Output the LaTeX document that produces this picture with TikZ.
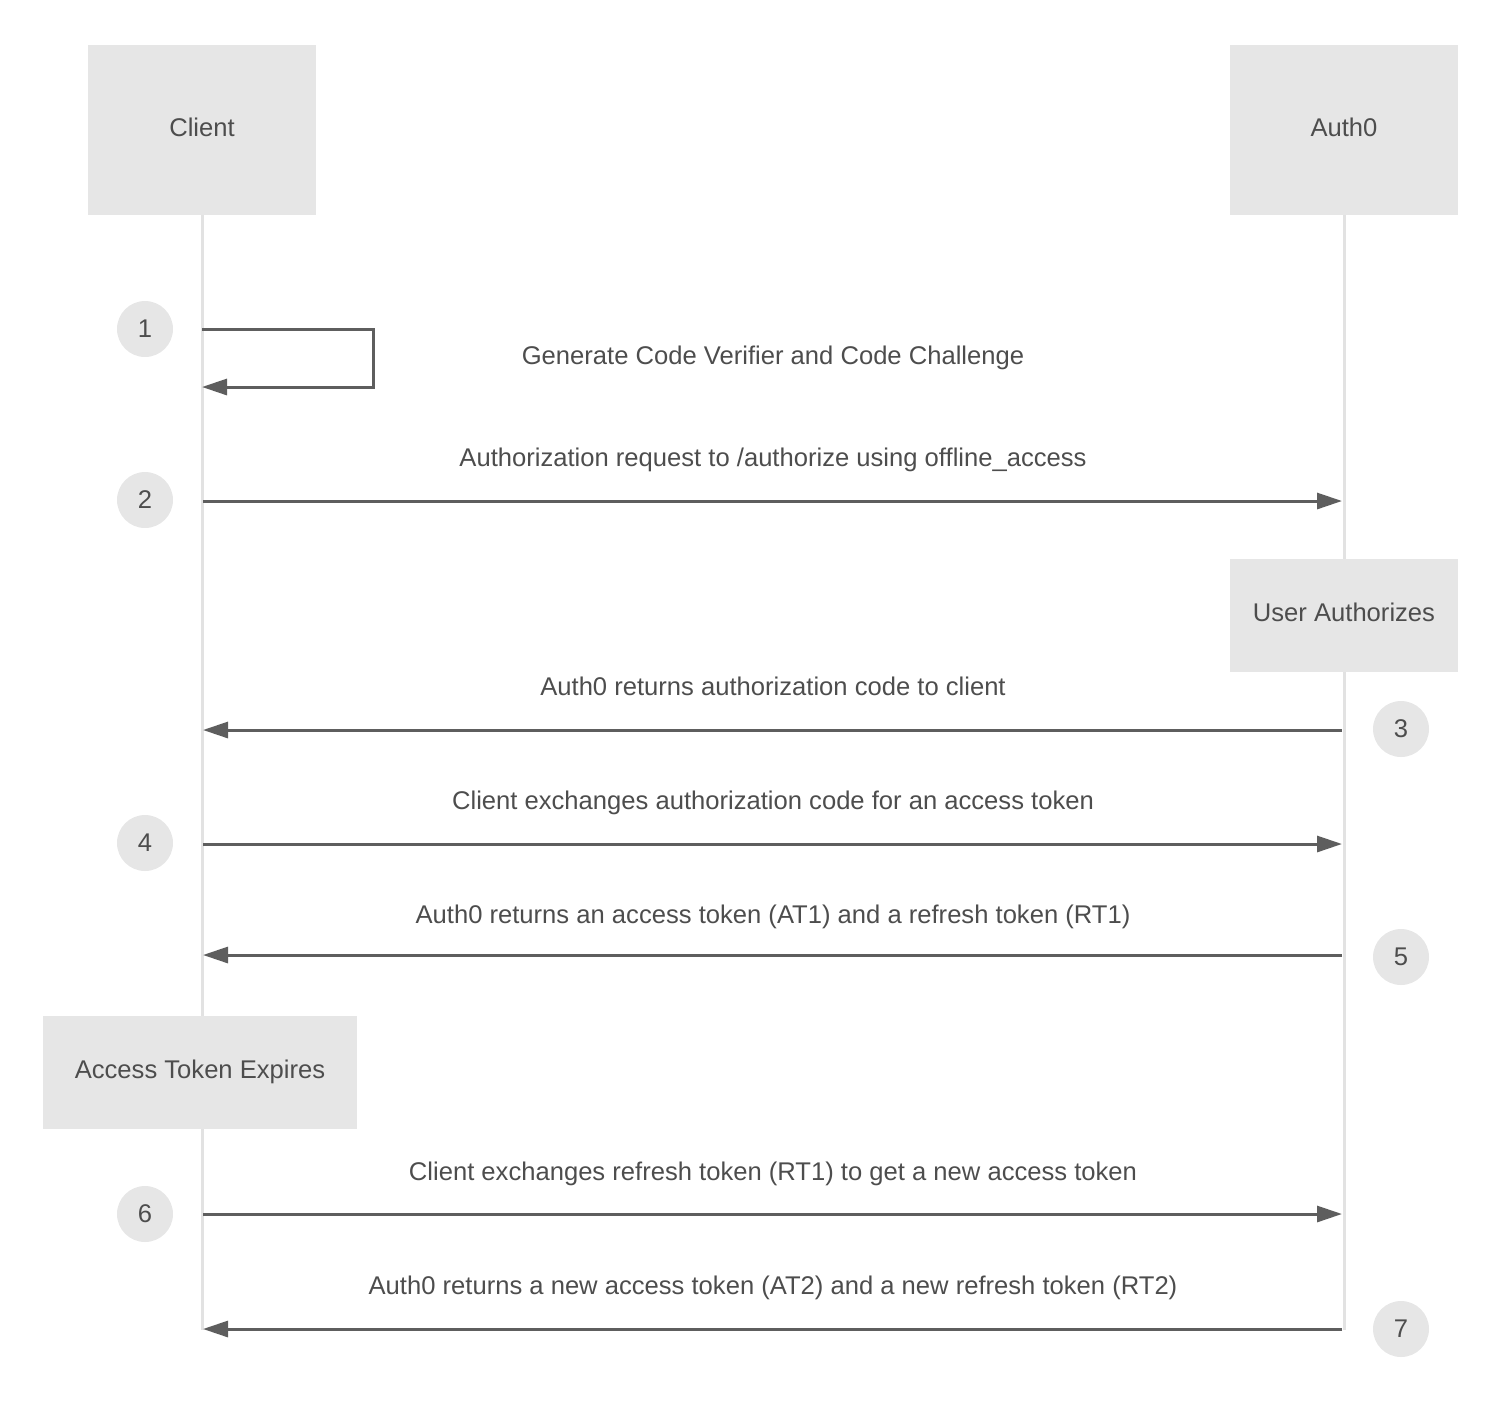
\documentclass[tikz,border=0pt]{standalone}
\usepackage{fontspec}
\setmainfont{Liberation Sans}
\usetikzlibrary{arrows.meta, calc}

\definecolor{boxgray}{HTML}{E6E6E6}
\definecolor{linegray}{HTML}{E2E2E2}
\definecolor{arrowgray}{HTML}{5E5E5E}
\definecolor{textgray}{HTML}{4D4D4D}

\tikzset{
  actor/.style={fill=boxgray,minimum width=114pt,minimum height=85pt,inner sep=0pt,text=textgray,
    text height=9pt,text depth=3pt},
  note/.style={fill=boxgray,minimum height=56.5pt,inner sep=0pt,text=textgray,
    text height=9pt,text depth=3pt},
  stepnum/.style={circle,fill=boxgray,minimum size=28pt,inner sep=0pt,text=textgray},
  msg/.style={text=textgray,inner sep=0pt,text height=9.5pt,text depth=2.8pt},
  life/.style={draw=linegray,line width=1.5pt},
  call/.style={draw=arrowgray,line width=1.5pt,->}
}

\begin{document}
\begin{tikzpicture}[x=0.5pt,y=-0.5pt,font=\fontsize{12.8pt}{15pt}\selectfont,
  >={Triangle[length=12.5pt,width=8pt]}]
\useasboundingbox (0,0) rectangle (1500,1415);
% actors and lifelines
\node [actor] (client) at (202,130) {Client};
\node [actor] (auth)   at (1344,130) {Auth0};
\coordinate (clientend) at (202,1330);
\coordinate (authend)   at (1344,1330);
\draw [life] (client.south) -- (clientend);
\draw [life] (auth.south) -- (authend);
% notes on the lifelines
\node [note,minimum width=114pt] (userauth) at (1344,615.5) {User Authorizes};
\node [note,minimum width=157pt] (expires)  at (200,1072.5) {Access Token Expires};
% step numbers
\node [stepnum] (n1) at (145,329)  {1};
\node [stepnum] (n2) at (145,500)  {2};
\node [stepnum] (n3) at (1401,729) {3};
\node [stepnum] (n4) at (145,843)  {4};
\node [stepnum] (n5) at (1401,957) {5};
\node [stepnum] (n6) at (145,1214) {6};
\node [stepnum] (n7) at (1401,1329) {7};
% message ends
\coordinate (c1) at (202,329);  \coordinate (c1b) at (202,387);
\coordinate (c2) at (203,501);  \coordinate (a2) at (1342,501);
\coordinate (c3) at (203,730);  \coordinate (a3) at (1342,730);
\coordinate (c4) at (203,844);  \coordinate (a4) at (1342,844);
\coordinate (c5) at (203,955);  \coordinate (a5) at (1342,955);
\coordinate (c6) at (203,1214); \coordinate (a6) at (1342,1214);
\coordinate (c7) at (203,1329); \coordinate (a7) at (1342,1329);
% messages
\draw [call] (c1) -- ++(171,0) |- (c1b);
\node [msg] (m1) at (773,358) {Generate Code Verifier and Code Challenge};
\draw [call] (c2) -- (a2);
\node [msg] (m2) at (773,460) {Authorization request to /authorize using offline\_access};
\draw [call] (a3) -- (c3);
\node [msg] (m3) at (773,689) {Auth0 returns authorization code to client};
\draw [call] (c4) -- (a4);
\node [msg] (m4) at (773,803) {Client exchanges authorization code for an access token};
\draw [call] (a5) -- (c5);
\node [msg] (m5) at (773,917) {Auth0 returns an access token (AT1) and a refresh token (RT1)};
\draw [call] (c6) -- (a6);
\node [msg] (m6) at (773,1174) {Client exchanges refresh token (RT1) to get a new access token};
\draw [call] (a7) -- (c7);
\node [msg] (m7) at (773,1288) {Auth0 returns a new access token (AT2) and a new refresh token (RT2)};
\end{tikzpicture}
\end{document}
